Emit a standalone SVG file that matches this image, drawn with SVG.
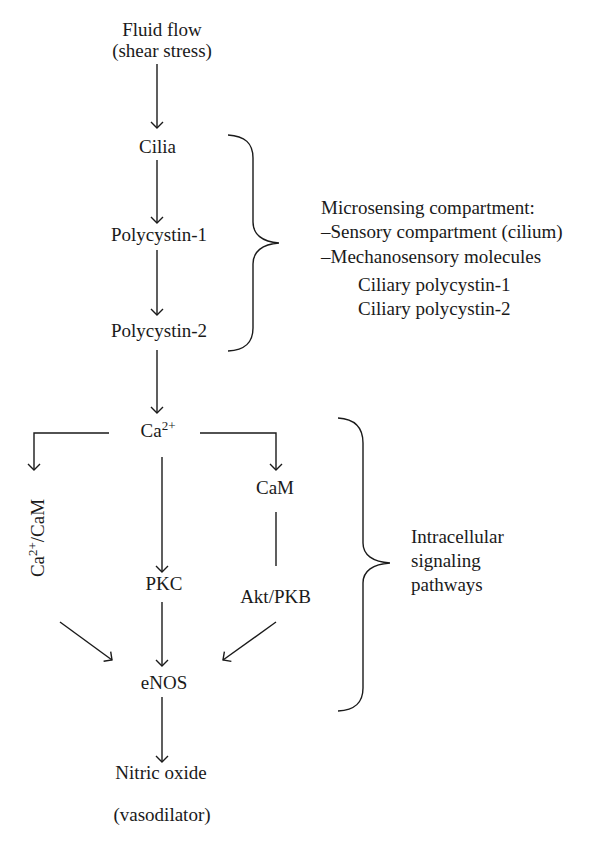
<svg xmlns="http://www.w3.org/2000/svg" width="600" height="847" viewBox="0 0 600 847">
<defs>
<style>
text{font-family:"Liberation Serif","Times New Roman",serif;font-size:19px;fill:#1a1a1a}
.c{text-anchor:middle}
.ln{fill:none;stroke:#1a1a1a;stroke-width:1.4}
.arr{fill:none;stroke:#1a1a1a;stroke-width:1.4;marker-end:url(#ah)}
</style>
<marker id="ah" markerWidth="14" markerHeight="14" refX="7" refY="7" orient="auto" markerUnits="userSpaceOnUse">
<path d="M1,1 L7,7 L1,13" fill="none" stroke="#1a1a1a" stroke-width="1.4"/>
</marker>
</defs>
<rect width="600" height="847" fill="#fff"/>
<g id="connectors">
<line class="arr" x1="157" y1="64" x2="157" y2="128"/>
<line class="arr" x1="157" y1="160" x2="157" y2="223"/>
<line class="arr" x1="157" y1="250" x2="157" y2="315"/>
<line class="arr" x1="157" y1="350" x2="157" y2="413"/>
<polyline class="arr" points="109,433 34,433 34,470"/>
<polyline class="arr" points="200,433 276,433 276,470"/>
<line class="arr" x1="162" y1="457" x2="162" y2="572"/>
<line class="ln" x1="276" y1="512" x2="276" y2="566"/>
<line class="arr" x1="60" y1="622" x2="112" y2="660"/>
<line class="arr" x1="276" y1="622" x2="223" y2="660"/>
<line class="arr" x1="162" y1="602" x2="162" y2="666"/>
<line class="arr" x1="162" y1="697" x2="162" y2="762"/>
</g>
<g id="brace-microsensing">
<path class="ln" d="M228,135 C245,136 253,143 253,158 L253,222 C253,234 262,242 279,243 C262,244 253,252 253,264 L253,328 C253,343 245,350 228,351"/>
<text x="321" y="214">Microsensing compartment:</text>
<text x="321" y="238">–Sensory compartment (cilium)</text>
<text x="321" y="263">–Mechanosensory molecules</text>
<text x="358" y="291">Ciliary polycystin-1</text>
<text x="358" y="315">Ciliary polycystin-2</text>
</g>
<g id="brace-intracellular">
<path class="ln" d="M338,418 C355,419 363,428 363,443 L363,543 C363,555 373,562 390,563 C373,564 363,571 363,583 L363,688 C363,703 355,710 338,711"/>
<text x="411" y="543">Intracellular</text>
<text x="411" y="567">signaling</text>
<text x="411" y="591">pathways</text>
</g>
<g id="fluid-flow"><text class="c" x="162" y="36">Fluid flow</text><text class="c" x="162" y="57">(shear stress)</text></g>
<g id="cilia"><text class="c" x="157.5" y="153">Cilia</text></g>
<g id="polycystin-1"><text class="c" x="159" y="241">Polycystin-1</text></g>
<g id="polycystin-2"><text class="c" x="159" y="337">Polycystin-2</text></g>
<g id="ca"><text class="c" x="158" y="437">Ca<tspan font-size="13" dy="-7">2+</tspan></text></g>
<g id="ca-cam"><text class="c" transform="translate(44,538) rotate(-90)">Ca<tspan font-size="13" dy="-7">2+</tspan><tspan dy="7">/CaM</tspan></text></g>
<g id="cam"><text class="c" x="275" y="494">CaM</text></g>
<g id="pkc"><text class="c" x="164" y="590">PKC</text></g>
<g id="akt"><text class="c" x="275.5" y="603">Akt/PKB</text></g>
<g id="enos"><text class="c" x="164" y="689">eNOS</text></g>
<g id="no"><text class="c" x="161" y="779">Nitric oxide</text></g>
<g id="vaso"><text class="c" x="162" y="821">(vasodilator)</text></g>
</svg>
